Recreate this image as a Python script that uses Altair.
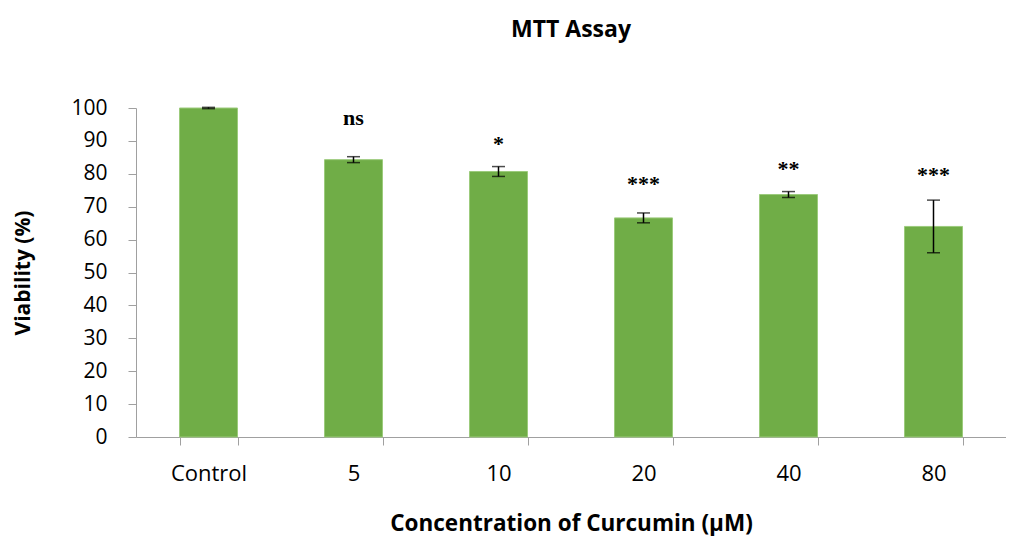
import altair as alt
import pandas as pd

categories = ["Control", "5", "10", "20", "40", "80"]
viability = [100.0, 84.3, 80.7, 66.6, 73.7, 64.0]
sd = [0.2, 0.9, 1.5, 1.5, 0.9, 8.0]
sig = ["", "ns", "*", "***", "**", "***"]
sig_y = [100.0, 97.0, 89.0, 77.0, 81.5, 79.5]

df = pd.DataFrame({
    "cat": categories,
    "v": viability,
    "lo": [a - b for a, b in zip(viability, sd)],
    "hi": [a + b for a, b in zip(viability, sd)],
    "sig": sig,
    "sy": sig_y,
})

FONT = "Open Sans"
x_axis = alt.Axis(title="Concentration of Curcumin (µM)", labelAngle=0,
                  tickBand="extent", tickSize=8, labelPadding=18,
                  labelFontSize=22, labelFont=FONT, labelColor="black",
                  titleFont=FONT, titleFontSize=22.5, titleFontWeight="bold",
                  titleColor="black", titlePadding=28,
                  domainColor="#A0A0A0", tickColor="#A0A0A0", grid=False)
x_scale = alt.Scale(paddingInner=0.6, paddingOuter=0.3)
y_axis = alt.Axis(title="Viability (%)", values=list(range(0, 101, 10)),
                  labelOverlap=False,
                  tickSize=8, labelPadding=21, labelFontSize=21,
                  labelFont=FONT, labelColor="black",
                  titleFont=FONT, titleFontSize=21, titleFontWeight="bold",
                  titleColor="black", titlePadding=37,
                  domainColor="#A0A0A0", tickColor="#A0A0A0", grid=False)
y_scale = alt.Scale(domain=[0, 100], nice=False)


def X():
    return alt.X("cat:N", sort=categories, scale=x_scale, axis=x_axis)


def Y(field):
    return alt.Y(field, scale=y_scale, axis=y_axis)


bars = alt.Chart(df).mark_bar(color="#70AD47", stroke="#9CCB7C", strokeWidth=1).encode(
    x=X(), y=Y("v:Q"))

rule = alt.Chart(df).mark_rule(color="black", strokeWidth=1.5).encode(
    x=X(), y=Y("lo:Q"), y2="hi:Q")
cap_lo = alt.Chart(df).mark_tick(color="black", size=13, thickness=1.5).encode(
    x=X(), y=Y("lo:Q"))
cap_hi = alt.Chart(df).mark_tick(color="black", size=13, thickness=1.5).encode(
    x=X(), y=Y("hi:Q"))

labels = alt.Chart(df).mark_text(font="Liberation Serif", fontWeight="bold",
                                 fontSize=22, baseline="middle", color="black").encode(
    x=X(), y=Y("sy:Q"), text="sig:N")

chart = alt.layer(bars, rule, cap_lo, cap_hi, labels).properties(
    width=998, height=528,
    autosize=alt.AutoSizeParams(type="fit", contains="padding"),
    title=alt.TitleParams("MTT Assay", font=FONT, fontSize=23, fontWeight="bold",
                          color="black", anchor="middle", frame="group", offset=55),
    padding={"left": 4, "top": 11, "right": 0, "bottom": 1},
).configure_view(stroke=None)

chart.save("out.html", embed_options={"renderer": "svg", "actions": False})
